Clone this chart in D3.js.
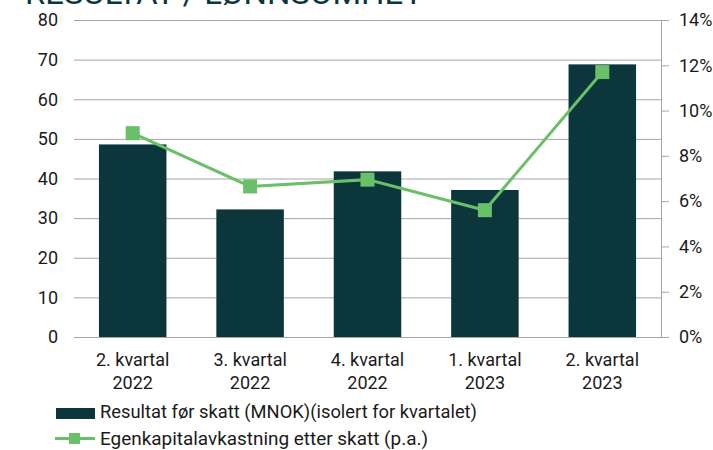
<!DOCTYPE html>
<html>
<head>
<meta charset="utf-8">
<script src="https://cdn.jsdelivr.net/npm/d3@7"></script>
<style>
  body { margin: 0; background: #fff; }
  text { font-family: "Roboto", sans-serif; }
</style>
</head>
<body>
<div class="article"></div>
<script>
//chart data
var categories = ["2. kvartal|2022", "3. kvartal|2022", "4. kvartal|2022", "1. kvartal|2023", "2. kvartal|2023"];
var resultat = [48.6, 32.2, 41.8, 37.1, 68.8];
var egenkapital = [9.0, 6.65, 6.95, 5.6, 11.7];
var leftTicks = [0, 10, 20, 30, 40, 50, 60, 70, 80];
var rightTicks = [0, 2, 4, 6, 8, 10, 12, 14];

var svgWidth = 713;
var svgHeight = 450;

var barColor = "#0b363c";
var lineColor = "#6abf69";
var gridColor = "#a6a6a6";

var svg = d3.select(".article")
  .append("svg")
  .attr("width", svgWidth)
  .attr("height", svgHeight);

//title, cut at the top
svg.append("text")
  .attr("x", 25)
  .attr("y", 4)
  .attr("fill", "#0b363c")
  .attr("textLength", 398)
  .attr("lengthAdjust", "spacingAndGlyphs")
  .style("font-size", "32px")
  .text("RESULTAT / LØNNSOMHET");

//scales
var xScale = d3.scaleBand()
  .domain(categories)
  .range([74, 661])
  .paddingInner(0.425)
  .paddingOuter(0.2125);

var yLeft = d3.scaleLinear().domain([0, 80]).range([337, 20]);
var yRight = d3.scaleLinear().domain([0, 14]).range([337, 20]);

//gridlines
svg.append("g")
  .selectAll("line")
  .data(leftTicks.slice(1))
  .enter()
  .append("line")
  .attr("x1", 74)
  .attr("x2", 661)
  .attr("y1", d => yLeft(d) + 0.5)
  .attr("y2", d => yLeft(d) + 0.5)
  .attr("stroke", gridColor)
  .attr("stroke-width", 1);

//left axis
var leftAxis = svg.append("g")
  .attr("transform", "translate(74,0)")
  .call(d3.axisLeft(yLeft).tickValues(leftTicks).tickSize(0).tickPadding(16));
leftAxis.select(".domain").remove();
leftAxis.selectAll("text")
  .attr("fill", "#1a1a1a")
  .style("font-size", "18px");

//right axis
var rightAxis = svg.append("g")
  .attr("transform", "translate(661,0)")
  .call(d3.axisRight(yRight).tickValues(rightTicks).tickSize(8).tickPadding(10)
    .tickFormat(d => d + "%"));
rightAxis.select(".domain").attr("stroke", gridColor);
rightAxis.selectAll(".tick line").attr("stroke", gridColor);
rightAxis.selectAll("text")
  .attr("fill", "#1a1a1a")
  .style("font-size", "18px");

//bars
svg.append("g")
  .selectAll("rect")
  .data(resultat)
  .enter()
  .append("rect")
  .attr("x", (d, i) => xScale(categories[i]))
  .attr("y", d => yLeft(d))
  .attr("width", xScale.bandwidth())
  .attr("height", d => yLeft(0) - yLeft(d))
  .attr("fill", barColor);

//baseline
svg.append("line")
  .attr("x1", 74)
  .attr("x2", 661)
  .attr("y1", 337.5)
  .attr("y2", 337.5)
  .attr("stroke", gridColor);

//category labels, two lines each
var catLabels = svg.append("g")
  .selectAll("text")
  .data(categories)
  .enter()
  .append("text")
  .attr("text-anchor", "middle")
  .attr("fill", "#1a1a1a")
  .style("font-size", "18px");
catLabels.append("tspan")
  .attr("x", d => xScale(d) + xScale.bandwidth() / 2)
  .attr("y", 366)
  .text(d => d.split("|")[0]);
catLabels.append("tspan")
  .attr("x", d => xScale(d) + xScale.bandwidth() / 2)
  .attr("y", 389)
  .text(d => d.split("|")[1]);

//line
var line = d3.line()
  .x((d, i) => xScale(categories[i]) + xScale.bandwidth() / 2)
  .y(d => yRight(d));

svg.append("path")
  .datum(egenkapital)
  .attr("d", line)
  .attr("fill", "none")
  .attr("stroke", lineColor)
  .attr("stroke-width", 3);

svg.append("g")
  .selectAll("rect")
  .data(egenkapital)
  .enter()
  .append("rect")
  .attr("x", (d, i) => xScale(categories[i]) + xScale.bandwidth() / 2 - 7)
  .attr("y", d => yRight(d) - 7)
  .attr("width", 14)
  .attr("height", 14)
  .attr("fill", lineColor);

//legend
var legend = svg.append("g");
legend.append("rect")
  .attr("x", 56)
  .attr("y", 408)
  .attr("width", 39)
  .attr("height", 11)
  .attr("fill", barColor);
legend.append("text")
  .attr("x", 100)
  .attr("y", 418)
  .attr("fill", "#1a1a1a")
  .attr("textLength", 377)
  .attr("lengthAdjust", "spacingAndGlyphs")
  .style("font-size", "18px")
  .text("Resultat før skatt (MNOK)(isolert for kvartalet)");
legend.append("line")
  .attr("x1", 55)
  .attr("x2", 95)
  .attr("y1", 438.5)
  .attr("y2", 438.5)
  .attr("stroke", lineColor)
  .attr("stroke-width", 3);
legend.append("rect")
  .attr("x", 69)
  .attr("y", 433)
  .attr("width", 11)
  .attr("height", 11)
  .attr("fill", lineColor);
legend.append("text")
  .attr("x", 100)
  .attr("y", 445)
  .attr("fill", "#1a1a1a")
  .attr("textLength", 328)
  .attr("lengthAdjust", "spacingAndGlyphs")
  .style("font-size", "18px")
  .text("Egenkapitalavkastning etter skatt (p.a.)");
</script>
</body>
</html>
